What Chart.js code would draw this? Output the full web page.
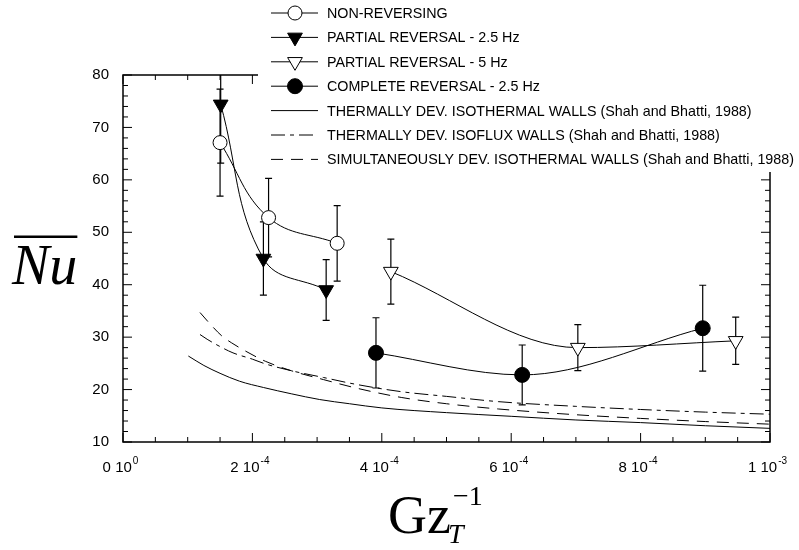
<!DOCTYPE html>
<html>
<head>
<meta charset="utf-8">
<script src="https://cdn.jsdelivr.net/npm/chart.js@4.4.0/dist/chart.umd.min.js"></script>
<style>
  html, body { margin: 0; padding: 0; background: #fff; }
  canvas { display: block; }
</style>
</head>
<body>
<canvas id="nu_chart" width="799" height="550"></canvas>
<script>
// AXES
const x_min = 0, x_max = 1e-3;
const y_min = 10, y_max = 80;
const x_tick_values = [0, 2e-4, 4e-4, 6e-4, 8e-4, 1e-3];
const x_tick_main = ['0 10', '2 10', '4 10', '6 10', '8 10', '1 10'];
const x_tick_exp = ['0', '-4', '-4', '-4', '-4', '-3'];

// MEASURED DATA (Gz_T^-1, mean Nu, error bar half height)
const nonrev_x = [1.50e-4, 2.25e-4, 3.31e-4];
const nonrev_y = [67.1, 52.8, 47.9];
const nonrev_err = [10.2, 7.5, 7.2];

const partial25_x = [1.51e-4, 2.17e-4, 3.14e-4];
const partial25_y = [74.4, 45.0, 39.0];
const partial25_err = [11.2, 7.0, 5.8];

const partial5_x = [4.14e-4, 7.03e-4, 9.47e-4];
const partial5_y = [42.5, 28.0, 29.3];
const partial5_err = [6.2, 4.4, 4.5];

const complete_x = [3.91e-4, 6.17e-4, 8.96e-4];
const complete_y = [27.0, 22.8, 31.7];
const complete_err = [6.7, 5.7, 8.2];

// SHAH AND BHATTI (1988) CURVES
const iso_t_x = [1.01e-4, 1.25e-4, 1.5e-4, 1.8e-4, 2.17e-4, 2.6e-4, 3.04e-4, 3.5e-4, 4.0e-4, 5.0e-4, 6.0e-4, 7.0e-4, 8.0e-4, 9.0e-4, 1.0e-3];
const iso_t_y = [26.4, 24.6, 23.1, 21.6, 20.4, 19.2, 18.1, 17.3, 16.5, 15.6, 14.9, 14.2, 13.7, 13.1, 12.6];

const iso_f_x = [1.19e-4, 1.3e-4, 1.5e-4, 1.7e-4, 2.0e-4, 2.2e-4, 2.6e-4, 3.1e-4, 3.6e-4, 4.3e-4, 5.0e-4, 5.8e-4, 7.0e-4, 8.0e-4, 9.0e-4, 1.0e-3];
const iso_f_y = [30.5, 29.6, 28.2, 27.0, 25.8, 24.9, 23.6, 22.3, 21.0, 19.6, 18.7, 17.7, 16.8, 16.2, 15.7, 15.3];

const simul_x = [1.19e-4, 1.34e-4, 1.53e-4, 1.68e-4, 1.9e-4, 2.2e-4, 2.6e-4, 3.1e-4, 3.6e-4, 4.3e-4, 5.0e-4, 5.8e-4, 7.0e-4, 8.0e-4, 9.0e-4, 1.0e-3];
const simul_y = [34.7, 32.6, 30.2, 28.9, 27.3, 25.4, 23.6, 21.9, 20.3, 18.5, 17.3, 16.3, 15.2, 14.5, 13.9, 13.4];

const legend_labels = [
  'NON-REVERSING',
  'PARTIAL REVERSAL - 2.5 Hz',
  'PARTIAL REVERSAL - 5 Hz',
  'COMPLETE REVERSAL - 2.5 Hz',
  'THERMALLY DEV. ISOTHERMAL WALLS (Shah and Bhatti, 1988)',
  'THERMALLY DEV. ISOFLUX WALLS (Shah and Bhatti, 1988)',
  'SIMULTANEOUSLY DEV. ISOTHERMAL WALLS (Shah and Bhatti, 1988)'
];

const SANS = "'Liberation Sans', Arial, sans-serif";
const SERIF = "'Liberation Serif', 'Times New Roman', serif";

function pts(xs, ys) {
  return xs.map((x, i) => ({ x: x, y: ys[i] }));
}

function markerSet(label, xs, ys, errs, style, rotation, radius, fill, mode) {
  return {
    label: label,
    data: pts(xs, ys),
    errors: errs,
    borderColor: '#000',
    borderWidth: 1,
    pointStyle: style,
    rotation: rotation,
    pointRadius: radius,
    pointBorderWidth: 1,
    pointBorderColor: '#000',
    pointBackgroundColor: fill,
    backgroundColor: fill,
    tension: 0.4,
    cubicInterpolationMode: mode,
    fill: false
  };
}

function curveSet(label, xs, ys, dash) {
  return {
    label: label,
    data: pts(xs, ys),
    borderColor: '#000',
    borderWidth: 1,
    borderDash: dash,
    pointRadius: 0,
    cubicInterpolationMode: 'monotone',
    fill: false
  };
}

const datasets = [
  markerSet(legend_labels[0], nonrev_x, nonrev_y, nonrev_err, 'circle', 0, 7, '#fff', 'default'),
  markerSet(legend_labels[1], partial25_x, partial25_y, partial25_err, 'triangle', 180, 8.5, '#000', 'default'),
  markerSet(legend_labels[2], partial5_x, partial5_y, partial5_err, 'triangle', 180, 8.5, '#fff', 'monotone'),
  markerSet(legend_labels[3], complete_x, complete_y, complete_err, 'circle', 0, 7.5, '#000', 'monotone'),
  curveSet(legend_labels[4], iso_t_x, iso_t_y, []),
  curveSet(legend_labels[5], iso_f_x, iso_f_y, [14, 5, 4, 5]),
  curveSet(legend_labels[6], simul_x, simul_y, [12, 8])
];

// error bars under the markers, frame + inward ticks, titles and legend on top
const frame_plugin = {
  id: 'frame_plugin',
  beforeDatasetsDraw(chart) {
    const { ctx, chartArea: a, scales: { x, y } } = chart;
    ctx.save();
    ctx.beginPath();
    ctx.rect(a.left, a.top, a.right - a.left, a.bottom - a.top);
    ctx.clip();
    ctx.strokeStyle = '#000';
    ctx.lineWidth = 1.2;
    chart.data.datasets.forEach(ds => {
      if (!ds.errors) return;
      ds.data.forEach((p, i) => {
        const px = x.getPixelForValue(p.x);
        const top = y.getPixelForValue(p.y + ds.errors[i]);
        const bot = y.getPixelForValue(p.y - ds.errors[i]);
        ctx.beginPath();
        ctx.moveTo(px, top); ctx.lineTo(px, bot);
        ctx.moveTo(px - 3.5, top); ctx.lineTo(px + 3.5, top);
        ctx.moveTo(px - 3.5, bot); ctx.lineTo(px + 3.5, bot);
        ctx.stroke();
      });
    });
    ctx.restore();
  },
  afterDatasetsDraw(chart) {
    const { ctx, chartArea: a, scales: { x, y } } = chart;
    ctx.save();
    ctx.strokeStyle = '#000';
    ctx.fillStyle = '#000';

    // box
    ctx.lineWidth = 1.5;
    ctx.strokeRect(a.left, a.top, a.right - a.left, a.bottom - a.top);

    // inward ticks
    ctx.lineWidth = 1;
    ctx.beginPath();
    for (let k = 0; k <= 20; k++) {
      const v = x_min + k * 0.5e-4;
      const px = x.getPixelForValue(v);
      const len = (k % 4 === 0) ? 9 : 5;
      ctx.moveTo(px, a.bottom); ctx.lineTo(px, a.bottom - len);
      ctx.moveTo(px, a.top); ctx.lineTo(px, a.top + len);
    }
    for (let v = y_min; v <= y_max; v += 2) {
      const py = y.getPixelForValue(v);
      const len = (v % 10 === 0) ? 9 : 5;
      ctx.moveTo(a.left, py); ctx.lineTo(a.left + len, py);
      ctx.moveTo(a.right, py); ctx.lineTo(a.right - len, py);
    }
    ctx.stroke();

    // x tick labels with exponent
    ctx.textBaseline = 'alphabetic';
    ctx.textAlign = 'left';
    x_tick_values.forEach((v, i) => {
      ctx.font = '15px ' + SANS;
      const w1 = ctx.measureText(x_tick_main[i]).width;
      ctx.font = '10px ' + SANS;
      const w2 = ctx.measureText(x_tick_exp[i]).width;
      const left = x.getPixelForValue(v) - (w1 + w2) / 2 - 3;
      ctx.font = '15px ' + SANS;
      ctx.fillText(x_tick_main[i], left, 472);
      ctx.font = '10px ' + SANS;
      ctx.fillText(x_tick_exp[i], left + w1 + 1, 464);
    });

    // y title: mean Nu
    ctx.font = 'italic 56px ' + SERIF;
    ctx.fillText('Nu', 12, 284);
    const nu_w = ctx.measureText('Nu').width;
    ctx.fillRect(14, 235.5, nu_w - 2, 2.5);

    // x title: Gz_T^-1
    ctx.font = '54px ' + SERIF;
    ctx.fillText('Gz', 388, 533);
    const gz_w = ctx.measureText('Gz').width;
    ctx.font = 'italic 28px ' + SERIF;
    ctx.fillText('T', 388 + gz_w - 3, 543);
    ctx.font = '28px ' + SERIF;
    ctx.fillText('\u22121', 388 + gz_w + 2, 505);

    // legend
    ctx.fillStyle = '#fff';
    ctx.fillRect(258, 0, chart.width - 258, 172);
    ctx.textBaseline = 'middle';
    ctx.font = '14.3px ' + SANS;
    chart.data.datasets.forEach((ds, i) => {
      const ly = 13 + i * 24.4;
      ctx.strokeStyle = '#000';
      ctx.lineWidth = 1;
      ctx.setLineDash(ds.borderDash || []);
      ctx.beginPath();
      ctx.moveTo(271, ly); ctx.lineTo(318, ly);
      ctx.stroke();
      ctx.setLineDash([]);
      if (ds.pointRadius > 0) {
        ctx.fillStyle = ds.pointBackgroundColor;
        Chart.helpers.drawPoint(ctx, {
          pointStyle: ds.pointStyle,
          radius: ds.pointRadius,
          rotation: ds.rotation,
          borderWidth: 1
        }, 295, ly);
      }
      ctx.fillStyle = '#000';
      ctx.fillText(ds.label, 327, ly + 1);
    });
    ctx.restore();
  }
};

const ctx = document.getElementById('nu_chart').getContext('2d');
const nu_chart = new Chart(ctx, {
  type: 'line',
  data: { datasets: datasets },
  options: {
    responsive: false,
    animation: false,
    devicePixelRatio: 1,
    layout: { padding: { top: 75, right: 29, left: 0, bottom: 0 } },
    plugins: {
      legend: { display: false },
      tooltip: { enabled: false }
    },
    scales: {
      x: {
        type: 'linear',
        min: x_min,
        max: x_max,
        grid: { display: false, drawTicks: false },
        border: { display: false },
        ticks: { display: false },
        afterFit(scale) { scale.height = 108; }
      },
      y: {
        type: 'linear',
        min: y_min,
        max: y_max,
        grid: { display: false, drawTicks: false },
        border: { display: false },
        ticks: {
          stepSize: 10,
          padding: 14,
          color: '#000',
          font: { family: SANS, size: 15 }
        },
        afterFit(scale) { scale.width = 123; }
      }
    }
  },
  plugins: [frame_plugin]
});
</script>
</body>
</html>
